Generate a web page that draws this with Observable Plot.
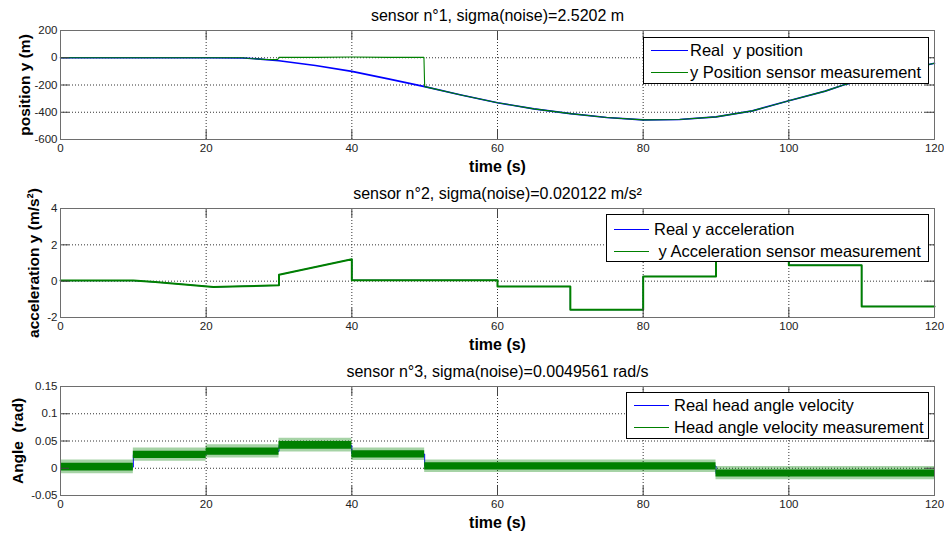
<!DOCTYPE html>
<html><head><meta charset="utf-8">
<script src="https://cdn.jsdelivr.net/npm/d3@7"></script>
<script src="https://cdn.jsdelivr.net/npm/@observablehq/plot@0.6"></script>
<style>
body{margin:0;background:#fff;}
#root{position:relative;width:944px;height:534px;overflow:hidden;font-family:"Liberation Sans",Arial,Helvetica,sans-serif;}
#root svg{display:block;}
.legend{position:absolute;box-sizing:border-box;border:1px solid #000;background:#fff;}
.legend .sw{position:absolute;height:1px;}
.legend .lb{position:absolute;white-space:pre;font-size:16.5px;line-height:20px;color:#000;}
</style></head><body><div id="root"></div>
<script>
// ---------- data ----------
const timeTicks = [0, 20, 40, 60, 80, 100, 120];

// Panel 1: position
const posTicks = [-600, -400, -200, 0, 200];
const posRealT = [0, 5, 10, 15, 20, 25, 27, 30, 35, 40, 45, 50, 55, 60, 65, 70, 75, 80, 85, 90, 95, 100, 105, 107.5, 110, 115, 120];
const posReal  = [0, 0, 0, 0, 0, -2, -8, -22, -57, -100, -155, -212, -273, -330, -375, -410, -438, -456, -453, -434, -390, -315, -245, -200, -165, -100, -40];
const posMeasT = [0, 25, 26, 28, 29.8, 30, 35, 40, 45, 49.9, 50, 55, 60, 65, 70, 75, 80, 85, 90, 95, 100, 105, 107.5, 110, 115, 120];
const posMeas  = [0, 0, -5, -12, -14, 4, 3, 5, 3, 4, -212, -273, -330, -375, -410, -438, -456, -453, -434, -390, -315, -245, -200, -165, -100, -40];

// Panel 2: acceleration
const accTicks = [-2, 0, 2, 4];
const accT    = [0, 10, 13, 17, 21, 25, 30, 30, 35, 40, 40, 50, 60, 60, 70, 70, 80, 80, 90, 90, 100, 100, 110, 110, 120];
const accReal = [0.03, 0.03, -0.05, -0.18, -0.32, -0.28, -0.23, 0.35, 0.78, 1.21, 0.05, 0.05, 0.05, -0.29, -0.29, -1.57, -1.57, 0.26, 0.26, 1.3, 1.3, 0.88, 0.88, -1.39, -1.39];
const accMeas = [0.03, 0.03, -0.05, -0.18, -0.32, -0.28, -0.23, 0.35, 0.78, 1.21, 0.05, 0.05, 0.05, -0.29, -0.29, -1.57, -1.57, 0.26, 0.26, 1.3, 1.3, 0.88, 0.88, -1.39, -1.39];

// Panel 3: head angle velocity
const angTicks = [-0.05, 0, 0.05, 0.1, 0.15];
const angSegStart = [0, 10, 20, 30, 40, 50, 90];
const angSegEnd   = [10, 20, 30, 40, 50, 90, 120];
const angReal     = [0.002, 0.025, 0.031, 0.042, 0.026, 0.004, -0.010];
const angCoreLo   = [-0.005, 0.018, 0.024, 0.035, 0.019, -0.003, -0.016];
const angCoreHi   = [0.009, 0.031, 0.037, 0.049, 0.032, 0.010, -0.003];
const angSpikeLo  = [-0.010, 0.013, 0.019, 0.030, 0.014, -0.008, -0.021];
const angSpikeHi  = [0.015, 0.037, 0.043, 0.055, 0.037, 0.015, 0.003];

// ---------- helpers ----------
const FONT = '"Liberation Sans", Arial, Helvetica, sans-serif';
const BLUE = "#0000ff", GREEN = "#008000";
const zip = (t, v) => t.map((x, i) => ({t: x, v: v[i]}));
const segRows = (lo, hi) => angSegStart.flatMap((s, i) => [
  {t: s, lo: lo[i], hi: hi[i]}, {t: angSegEnd[i], lo: lo[i], hi: hi[i]}
]);

function panel({title, ylabel, ylabelDx, yTicks, marks}) {
  const W = 944, H = 178, mt = 30, mb = 39, ml = 60, mr = 10;
  const iw = W - ml - mr, ih = H - mt - mb;
  const yDomain = [yTicks[0], yTicks[yTicks.length - 1]];
  return Plot.plot({
    width: W, height: H, marginTop: mt, marginBottom: mb, marginLeft: ml, marginRight: mr,
    style: {fontFamily: FONT, background: "white", overflow: "visible"},
    x: {domain: [0, 120]},
    y: {domain: yDomain},
    marks: [
      Plot.gridX(timeTicks.slice(1, -1), {stroke: "#333", strokeOpacity: 1, strokeDasharray: "1,2"}),
      Plot.gridY(yTicks.slice(1, -1), {stroke: "#333", strokeOpacity: 1, strokeDasharray: "1,2"}),
      ...marks,
      Plot.tickX(timeTicks, {x: d => d, stroke: "#444", insetTop: ih - 9}),
      Plot.tickX(timeTicks, {x: d => d, stroke: "#444", insetBottom: ih - 9}),
      Plot.tickY(yTicks, {y: d => d, stroke: "#444", insetRight: iw - 9}),
      Plot.tickY(yTicks, {y: d => d, stroke: "#444", insetLeft: iw - 9}),
      Plot.frame({stroke: "#6e6e6e"}),
      Plot.axisX(timeTicks, {tickSize: 0, tickPadding: 4, fontSize: 11.5, tickFormat: d => String(d), label: null, fill: "#222"}),
      Plot.axisY(yTicks, {tickSize: 0, tickPadding: 3, fontSize: 11.5, tickFormat: d => String(d), label: null, fill: "#222"}),
      Plot.text([title], {frameAnchor: "top", textAnchor: "middle", dy: -14.5, fontSize: 16, lineAnchor: "middle", fill: "#000", style: "letter-spacing:0.35px"}),
      Plot.text(["time (s)"], {frameAnchor: "bottom", textAnchor: "middle", dy: 27, fontSize: 16, fontWeight: "bold", lineAnchor: "middle", fill: "#000"}),
      Plot.text([ylabel], {frameAnchor: "left", textAnchor: "middle", dx: ylabelDx, rotate: -90, fontSize: 15.5, fontWeight: "bold", lineAnchor: "middle", fill: "#000"})
    ]
  });
}

const root = document.getElementById("root");

root.append(panel({
  title: "sensor n°1, sigma(noise)=2.5202 m",
  ylabel: "position y (m)", ylabelDx: -35, yTicks: posTicks,
  marks: [
    Plot.line(zip(posRealT, posReal), {x: "t", y: "v", stroke: BLUE, strokeWidth: 1.6}),
    Plot.line(zip(posMeasT, posMeas), {x: "t", y: "v", stroke: GREEN, strokeWidth: 1.1})
  ]
}));

root.append(panel({
  title: "sensor n°2, sigma(noise)=0.020122 m/s²",
  ylabel: "acceleration y (m/s²)", ylabelDx: -26, yTicks: accTicks,
  marks: [
    Plot.line(zip(accT, accReal), {x: "t", y: "v", stroke: BLUE, strokeWidth: 1}),
    Plot.line(zip(accT, accMeas), {x: "t", y: "v", stroke: GREEN, strokeWidth: 2})
  ]
}));

const angRealRows = angSegStart.flatMap((s, i) => [{t: s, v: angReal[i]}, {t: angSegEnd[i], v: angReal[i]}]);
root.append(panel({
  title: "sensor n°3, sigma(noise)=0.0049561 rad/s",
  ylabel: "Angle  (rad)", ylabelDx: -42, yTicks: angTicks,
  marks: [
    Plot.line(angRealRows, {x: "t", y: "v", stroke: BLUE, strokeWidth: 1}),
    Plot.areaY(segRows(angSpikeLo, angSpikeHi), {x: "t", y1: "lo", y2: "hi", fill: GREEN, fillOpacity: 0.35}),
    Plot.areaY(segRows(angCoreLo, angCoreHi), {x: "t", y1: "lo", y2: "hi", fill: GREEN, fillOpacity: 1})
  ]
}));

// ---------- legends ----------
const legends = [
  {left: 643, top: 37, width: 286, height: 47, sw: [7, 44], tx: 46, rows: [13, 35],
   items: [["Real  y position", BLUE], ["y Position sensor measurement", GREEN]]},
  {left: 606, top: 214, width: 323, height: 48, sw: [7, 42], tx: 47, rows: [15, 37],
   items: [["Real y acceleration", BLUE], [" y Acceleration sensor measurement", GREEN]]},
  {left: 626, top: 392, width: 303, height: 47, sw: [7, 42], tx: 47, rows: [13, 35],
   items: [["Real head angle velocity", BLUE], ["Head angle velocity measurement", GREEN]]}
];
for (const L of legends) {
  const box = document.createElement("div");
  box.className = "legend";
  Object.assign(box.style, {left: L.left + "px", top: L.top + "px", width: L.width + "px", height: L.height + "px"});
  L.items.forEach(([label, color], i) => {
    const sw = document.createElement("div");
    sw.className = "sw";
    sw.style.left = L.sw[0] + "px";
    sw.style.width = (L.sw[1] - L.sw[0]) + "px";
    sw.style.top = (L.rows[i] - 1) + "px";
    sw.style.background = color;
    const lb = document.createElement("div");
    lb.className = "lb";
    lb.textContent = label;
    lb.style.left = L.tx + "px";
    lb.style.top = (L.rows[i] - 11) + "px";
    box.append(sw, lb);
  });
  root.append(box);
}
</script>
</body></html>
